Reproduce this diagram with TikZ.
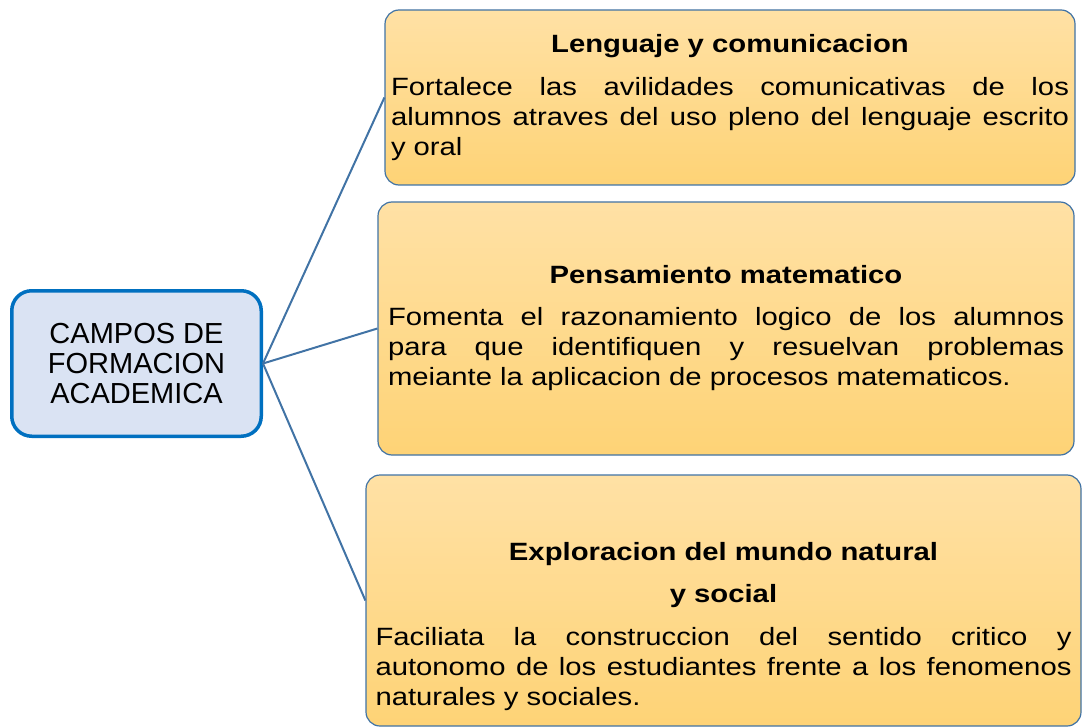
\documentclass[tikz,border=0pt]{standalone}
\usepackage{fontspec}
\setmainfont{Liberation Sans}
\newfontfamily\widesans[FakeStretch=1.17]{Liberation Sans}
\usetikzlibrary{positioning}
\setlength{\parindent}{0pt}

\definecolor{campoline}{RGB}{0,112,192}
\definecolor{campofill}{RGB}{218,227,243}
\definecolor{linkblue}{RGB}{65,115,165}
\definecolor{fieldtop}{RGB}{255,225,165}
\definecolor{fieldbottom}{RGB}{254,211,118}

\begin{document}
\begin{tikzpicture}[x=1pt,y=-1pt]
	\useasboundingbox (0,0) rectangle (1083,727);
	\node[draw=campoline, line width=3.5pt, fill=campofill, rounded corners=20pt,
	      minimum width=249.5pt, minimum height=145.5pt, align=center,
	      font=\fontsize{29}{30}\selectfont] (campos) at (136.5,363.5)
	      {CAMPOS DE\\FORMACION\\ACADEMICA};
	\begin{scope}[every node/.style={draw=linkblue, line width=1.2pt, rounded corners=14pt,
	              top color=fieldtop, bottom color=fieldbottom, inner xsep=0pt,
	              align=justify, font=\widesans\fontsize{25}{30}\selectfont}]
		\node[minimum width=690pt, minimum height=175pt, text width=678pt] (lenguaje) at (730,97.5)
			{{\centering\bfseries Lenguaje y comunicacion\par}\vspace{13pt}
			Fortalece las avilidades comunicativas de los\linebreak
			alumnos atraves del uso pleno del lenguaje escrito\linebreak
			y oral};
		\node[minimum width=696pt, minimum height=253pt, text width=676pt] (pensamiento) at (726,328.5)
			{{\centering\bfseries Pensamiento matematico\par}\vspace{12pt}
			Fomenta el razonamiento logico de los alumnos\linebreak
			para que identifiquen y resuelvan problemas\linebreak
			meiante la aplicacion de procesos matematicos.};
		\node[minimum width=715pt, minimum height=251pt, text width=696pt] (exploracion) at (723.5,600.5)
			{{\centering\bfseries\rule{0pt}{70pt}Exploracion del mundo natural\par
			\vspace{12pt}y social\par}\vspace{13pt}
			Faciliata la construccion del sentido critico y\linebreak
			autonomo de los estudiantes frente a los fenomenos\linebreak
			naturales y sociales.};
	\end{scope}
	\begin{scope}[every edge/.style={draw=linkblue, line width=2pt}]
		\path (campos.east) edge (lenguaje.west);
		\path (campos.east) edge (pensamiento.west);
		\path (campos.east) edge (exploracion.west);
	\end{scope}
\end{tikzpicture}
\end{document}
